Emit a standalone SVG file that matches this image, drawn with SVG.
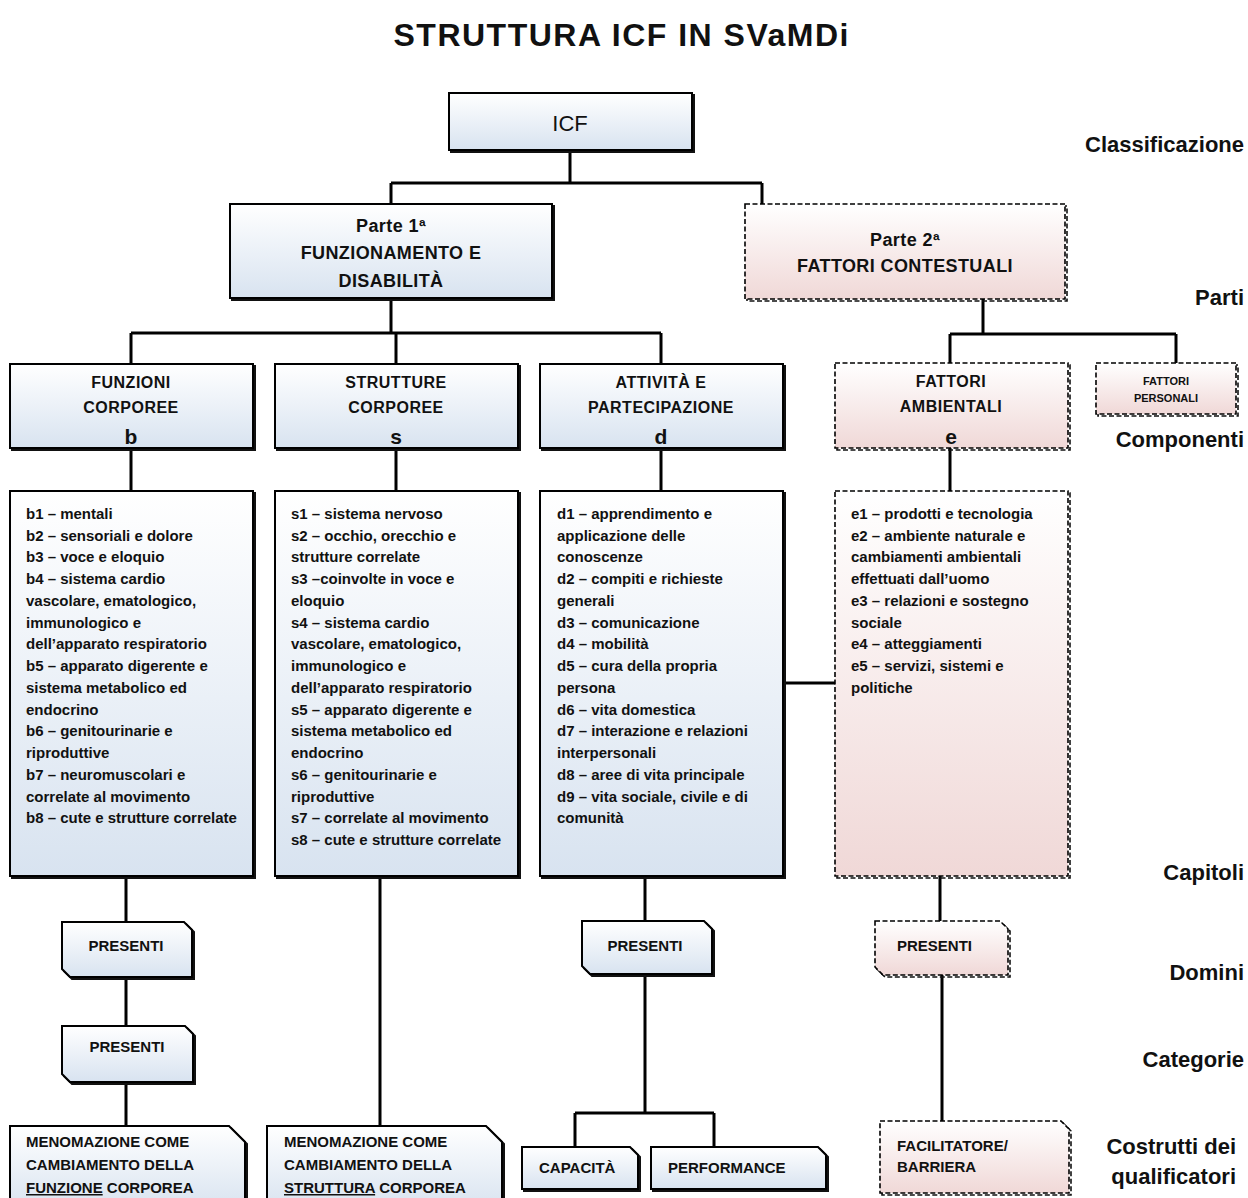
<svg xmlns="http://www.w3.org/2000/svg" width="1248" height="1198" viewBox="0 0 1248 1198">
<defs>
<linearGradient id="gb" x1="0" y1="0" x2="0" y2="1"><stop offset="0" stop-color="#ffffff"/><stop offset="1" stop-color="#d8e3f0"/></linearGradient>
<linearGradient id="gp" x1="0" y1="0" x2="0" y2="1"><stop offset="0" stop-color="#ffffff"/><stop offset="1" stop-color="#f0d8d7"/></linearGradient>
<style>
.box{fill:url(#gb);stroke:#000;stroke-width:2}
.boxd{fill:url(#gp);stroke:#000;stroke-width:1.6;stroke-dasharray:5 2.5}
.sh{fill:none;stroke:#111;stroke-width:2}
.shd{fill:none;stroke:#111;stroke-width:1.6;stroke-dasharray:5 2.5}
.conn{stroke:#000;stroke-width:3;fill:none}
.t{font-family:"Liberation Sans",Arial,sans-serif;font-weight:bold;fill:#111}
.title{font-size:32px;text-anchor:middle}
.hdr{font-size:18px;text-anchor:middle;letter-spacing:0.4px}
.cmp{font-size:16px;text-anchor:middle;letter-spacing:0.5px}
.ltr{font-size:21px;text-anchor:middle}
.lst{font-size:15px}
.lbl{font-size:22px;text-anchor:end}
.q{font-size:15px}
.qc{font-size:15px;text-anchor:middle}
</style>
</defs>
<rect width="1248" height="1198" fill="#ffffff"/>
<text class="t title" x="621" y="46" textLength="455" lengthAdjust="spacing">STRUTTURA ICF IN SVaMDi</text>

<g id="connectors">
<path class="conn" d="M570 150V183M391 183H762M391 183V204M762 183V204"/>
<path class="conn" d="M391 298V333M131 333H661M131 333V364M396 333V364M661 333V364"/>
<path class="conn" d="M131 448V491M396 448V491M661 448V491"/>
<path class="conn" d="M983 299V334M950 334H1176M950 334V363M1176 334V363M950 448V491"/>
<path class="conn" d="M783 683H835"/>
<path class="conn" d="M126 876V922M126 977V1026M126 1082V1126M380 876V1126"/>
<path class="conn" d="M645 876V921M645 974V1113M575 1113H714M575 1113V1147M714 1113V1147"/>
<path class="conn" d="M940 876V921M942 975V1121"/>
</g>

<g id="icf">
<rect class="sh" x="451" y="95" width="243" height="57"/>
<rect class="box" x="449" y="93" width="243" height="57"/>
<text class="t" x="570" y="131" text-anchor="middle" font-weight="normal" style="font-weight:normal;font-size:22px">ICF</text>
</g>

<g id="parte1">
<rect class="sh" x="232" y="206" width="322" height="94"/>
<rect class="box" x="230" y="204" width="322" height="94"/>
<text class="t hdr" x="391" y="232">Parte 1ª</text>
<text class="t hdr" x="391" y="259">FUNZIONAMENTO E</text>
<text class="t hdr" x="391" y="287">DISABILITÀ</text>
</g>

<g id="parte2">
<rect class="shd" x="747" y="206" width="320" height="95"/>
<rect class="boxd" x="745" y="204" width="320" height="95"/>
<text class="t hdr" x="905" y="246">Parte 2ª</text>
<text class="t hdr" x="905" y="272">FATTORI CONTESTUALI</text>
</g>

<g id="funzioni">
<rect class="sh" x="12" y="366" width="243" height="84"/>
<rect class="box" x="10" y="364" width="243" height="84"/>
<text class="t cmp" x="131" y="388">FUNZIONI</text>
<text class="t cmp" x="131" y="413">CORPOREE</text>
<text class="t ltr" x="131" y="444">b</text>
</g>

<g id="strutture">
<rect class="sh" x="277" y="366" width="243" height="84"/>
<rect class="box" x="275" y="364" width="243" height="84"/>
<text class="t cmp" x="396" y="388">STRUTTURE</text>
<text class="t cmp" x="396" y="413">CORPOREE</text>
<text class="t ltr" x="396" y="444">s</text>
</g>

<g id="attivita">
<rect class="sh" x="542" y="366" width="243" height="84"/>
<rect class="box" x="540" y="364" width="243" height="84"/>
<text class="t cmp" x="661" y="388">ATTIVITÀ E</text>
<text class="t cmp" x="661" y="413">PARTECIPAZIONE</text>
<text class="t ltr" x="661" y="444">d</text>
</g>

<g id="ambientali">
<rect class="shd" x="837" y="365" width="233" height="85"/>
<rect class="boxd" x="835" y="363" width="233" height="85"/>
<text class="t cmp" x="951" y="387">FATTORI</text>
<text class="t cmp" x="951" y="412">AMBIENTALI</text>
<text class="t ltr" x="951" y="444">e</text>
</g>

<g id="personali">
<rect class="shd" x="1098" y="365" width="140" height="51"/>
<rect class="boxd" x="1096" y="363" width="140" height="51"/>
<text class="t" x="1166" y="385" text-anchor="middle" font-size="11">FATTORI</text>
<text class="t" x="1166" y="402" text-anchor="middle" font-size="11">PERSONALI</text>
</g>

<g id="lista-b">
<rect class="sh" x="12" y="493" width="243" height="385"/>
<rect class="box" x="10" y="491" width="243" height="385"/>
<text class="t lst" x="26" y="519">b1 – mentali</text>
<text class="t lst" x="26" y="541">b2 – sensoriali e dolore</text>
<text class="t lst" x="26" y="562">b3 – voce e eloquio</text>
<text class="t lst" x="26" y="584">b4 – sistema cardio</text>
<text class="t lst" x="26" y="606">vascolare, ematologico,</text>
<text class="t lst" x="26" y="628">immunologico e</text>
<text class="t lst" x="26" y="649">dell’apparato respiratorio</text>
<text class="t lst" x="26" y="671">b5 – apparato digerente e</text>
<text class="t lst" x="26" y="693">sistema metabolico ed</text>
<text class="t lst" x="26" y="715">endocrino</text>
<text class="t lst" x="26" y="736">b6 – genitourinarie e</text>
<text class="t lst" x="26" y="758">riproduttive</text>
<text class="t lst" x="26" y="780">b7 – neuromuscolari e</text>
<text class="t lst" x="26" y="802">correlate al movimento</text>
<text class="t lst" x="26" y="823">b8 – cute e strutture correlate</text>
</g>

<g id="lista-s">
<rect class="sh" x="277" y="493" width="243" height="385"/>
<rect class="box" x="275" y="491" width="243" height="385"/>
<text class="t lst" x="291" y="519">s1 – sistema nervoso</text>
<text class="t lst" x="291" y="541">s2 – occhio, orecchio e</text>
<text class="t lst" x="291" y="562">strutture correlate</text>
<text class="t lst" x="291" y="584">s3 –coinvolte in voce e</text>
<text class="t lst" x="291" y="606">eloquio</text>
<text class="t lst" x="291" y="628">s4 – sistema cardio</text>
<text class="t lst" x="291" y="649">vascolare, ematologico,</text>
<text class="t lst" x="291" y="671">immunologico e</text>
<text class="t lst" x="291" y="693">dell’apparato respiratorio</text>
<text class="t lst" x="291" y="715">s5 – apparato digerente e</text>
<text class="t lst" x="291" y="736">sistema metabolico ed</text>
<text class="t lst" x="291" y="758">endocrino</text>
<text class="t lst" x="291" y="780">s6 – genitourinarie e</text>
<text class="t lst" x="291" y="802">riproduttive</text>
<text class="t lst" x="291" y="823">s7 – correlate al movimento</text>
<text class="t lst" x="291" y="845">s8 – cute e strutture correlate</text>
</g>

<g id="lista-d">
<rect class="sh" x="542" y="493" width="243" height="385"/>
<rect class="box" x="540" y="491" width="243" height="385"/>
<text class="t lst" x="557" y="519">d1 – apprendimento e</text>
<text class="t lst" x="557" y="541">applicazione delle</text>
<text class="t lst" x="557" y="562">conoscenze</text>
<text class="t lst" x="557" y="584">d2 – compiti e richieste</text>
<text class="t lst" x="557" y="606">generali</text>
<text class="t lst" x="557" y="628">d3 – comunicazione</text>
<text class="t lst" x="557" y="649">d4 – mobilità</text>
<text class="t lst" x="557" y="671">d5 – cura della propria</text>
<text class="t lst" x="557" y="693">persona</text>
<text class="t lst" x="557" y="715">d6 – vita domestica</text>
<text class="t lst" x="557" y="736">d7 – interazione e relazioni</text>
<text class="t lst" x="557" y="758">interpersonali</text>
<text class="t lst" x="557" y="780">d8 – aree di vita principale</text>
<text class="t lst" x="557" y="802">d9 – vita sociale, civile e di</text>
<text class="t lst" x="557" y="823">comunità</text>
</g>

<g id="lista-e">
<rect class="shd" x="837" y="493" width="233" height="385"/>
<rect class="boxd" x="835" y="491" width="233" height="385"/>
<text class="t lst" x="851" y="519">e1 – prodotti e tecnologia</text>
<text class="t lst" x="851" y="541">e2 – ambiente naturale e</text>
<text class="t lst" x="851" y="562">cambiamenti ambientali</text>
<text class="t lst" x="851" y="584">effettuati dall’uomo</text>
<text class="t lst" x="851" y="606">e3 – relazioni e sostegno</text>
<text class="t lst" x="851" y="628">sociale</text>
<text class="t lst" x="851" y="649">e4 – atteggiamenti</text>
<text class="t lst" x="851" y="671">e5 – servizi, sistemi e</text>
<text class="t lst" x="851" y="693">politiche</text>
</g>

<g id="presenti-b1">
<path class="sh" d="M64 924H186L194 932V979H72L64 971Z"/>
<path class="box" d="M62 922H184L192 930V977H70L62 969Z"/>
<text class="t qc" x="126" y="951">PRESENTI</text>
</g>

<g id="presenti-b2">
<path class="sh" d="M64 1028H187L195 1036V1084H72L64 1076Z"/>
<path class="box" d="M62 1026H185L193 1034V1082H70L62 1074Z"/>
<text class="t qc" x="127" y="1052">PRESENTI</text>
</g>

<g id="presenti-d">
<path class="sh" d="M584 923H706L714 931V976H592L584 968Z"/>
<path class="box" d="M582 921H704L712 929V974H590L582 966Z"/>
<text class="t qc" x="645" y="951">PRESENTI</text>
</g>

<g id="presenti-e">
<path class="shd" d="M877 923H1002L1010 931V977H885L877 969Z"/>
<path class="boxd" d="M875 921H1000L1008 929V975H883L875 967Z"/>
<text class="t q" x="897" y="951">PRESENTI</text>
</g>

<g id="menomazione-funzione">
<path class="sh" d="M12 1128H231L247 1144V1212H12Z"/>
<path class="box" d="M10 1126H229L245 1142V1210H10Z"/>
<text class="t q" x="26" y="1147">MENOMAZIONE COME</text>
<text class="t q" x="26" y="1170">CAMBIAMENTO DELLA</text>
<text class="t q" x="26" y="1193"><tspan style="text-decoration:underline">FUNZIONE</tspan> CORPOREA</text>
</g>

<g id="menomazione-struttura">
<path class="sh" d="M269 1128H488L504 1144V1212H269Z"/>
<path class="box" d="M267 1126H486L502 1142V1210H267Z"/>
<text class="t q" x="284" y="1147">MENOMAZIONE COME</text>
<text class="t q" x="284" y="1170">CAMBIAMENTO DELLA</text>
<text class="t q" x="284" y="1193"><tspan style="text-decoration:underline">STRUTTURA</tspan> CORPOREA</text>
</g>

<g id="capacita">
<path class="sh" d="M524 1149H632L640 1157V1191H524Z"/>
<path class="box" d="M522 1147H630L638 1155V1189H522Z"/>
<text class="t q" x="539" y="1173">CAPACITÀ</text>
</g>

<g id="performance">
<path class="sh" d="M653 1149H820L828 1157V1191H653Z"/>
<path class="box" d="M651 1147H818L826 1155V1189H651Z"/>
<text class="t q" x="668" y="1173">PERFORMANCE</text>
</g>

<g id="facilitatore">
<path class="shd" d="M882 1123H1063L1071 1131V1195H882Z"/>
<path class="boxd" d="M880 1121H1061L1069 1129V1193H880Z"/>
<text class="t q" x="897" y="1151">FACILITATORE/</text>
<text class="t q" x="897" y="1172">BARRIERA</text>
</g>

<g id="livelli">
<text class="t lbl" x="1244" y="152">Classificazione</text>
<text class="t lbl" x="1244" y="305">Parti</text>
<text class="t lbl" x="1244" y="447">Componenti</text>
<text class="t lbl" x="1244" y="880">Capitoli</text>
<text class="t lbl" x="1244" y="980">Domini</text>
<text class="t lbl" x="1244" y="1067">Categorie</text>
<text class="t lbl" x="1236" y="1154">Costrutti dei</text>
<text class="t lbl" x="1236" y="1184">qualificatori</text>
</g>
</svg>
